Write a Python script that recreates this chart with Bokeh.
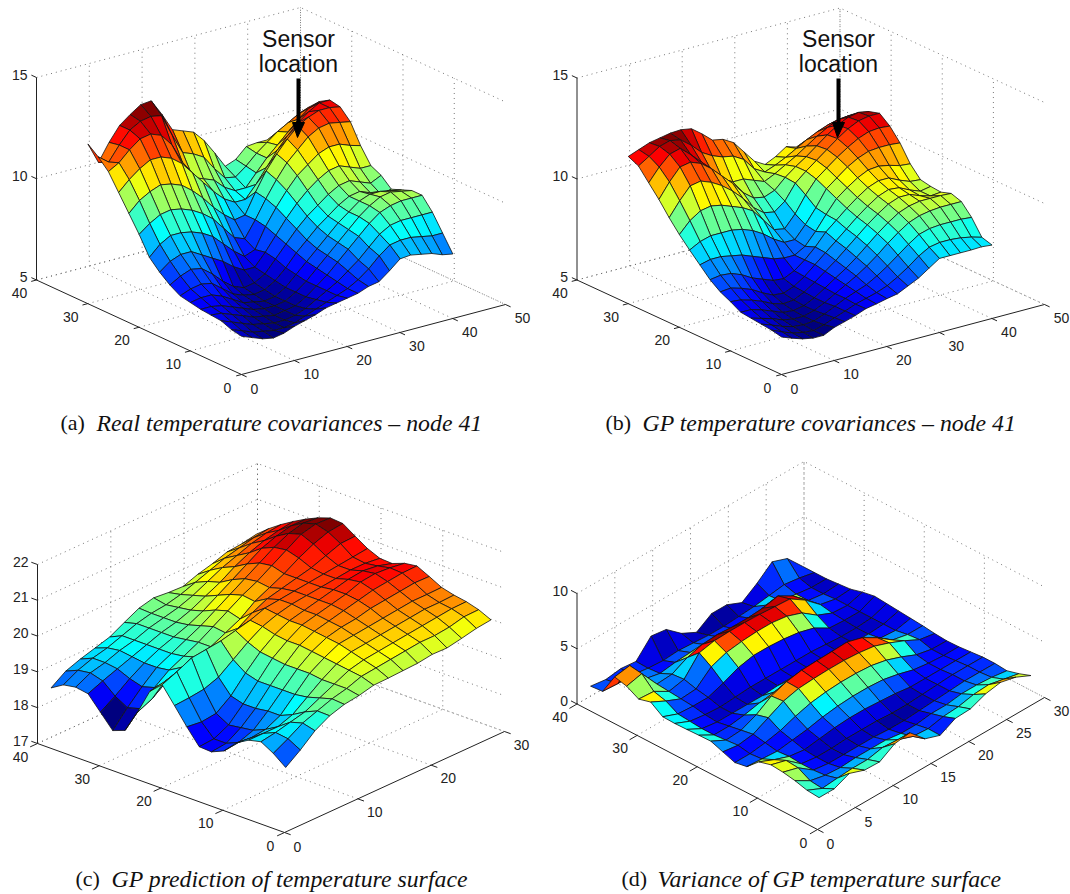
import numpy as np
from bokeh.plotting import figure
from bokeh.models import Range1d, ColumnDataSource
from bokeh.core.properties import value
from bokeh.embed import file_html
from bokeh.resources import INLINE

# surface heights, rows = y (front to back), columns = x (left to right)
a_x = list(range(1, 42, 2))
a_y = list(range(1, 32, 2))
z_a = [
[6.7,6.5,6.3,6.2,6.3,6.5,6.65,6.8,7.0,7.1,7.2,7.3,7.5,7.6,8.0,8.45,8.5,8.4,8.3,8.1,8.0],
[6.8,6.6,6.4,6.3,6.2,6.2,6.3,6.5,6.7,6.9,7.1,7.3,7.6,8.0,8.5,8.9,9.0,9.0,8.9,8.8,8.8],
[7.0,6.8,6.6,6.4,6.3,6.2,6.2,6.3,6.5,6.8,7.1,7.4,7.8,8.2,8.7,9.2,9.5,9.6,9.6,9.6,9.6],
[7.05,7.0,6.8,6.6,6.4,6.3,6.2,6.3,6.4,6.7,7.1,7.5,8.0,8.5,9.0,9.5,9.9,10.1,10.2,10.2,10.2],
[7.1,7.1,7.0,6.8,6.6,6.4,6.3,6.3,6.4,6.7,7.1,7.6,8.1,8.6,9.1,9.6,10,10.3,10.4,10.3,10.2],
[7.2,7.3,7.3,7.1,6.8,6.5,6.4,6.3,6.4,6.7,7.2,7.7,8.2,8.7,9.2,9.6,10,10.2,10.2,10.1,10],
[7.3,7.5,7.6,7.5,7.1,6.7,6.5,6.4,6.5,6.8,7.3,7.9,8.4,8.9,9.3,9.7,10,10.1,9.9,9.7,9.8],
[7.6,7.9,8.1,8.0,7.6,7.1,6.7,6.5,6.6,6.9,7.5,8.1,8.7,9.2,9.6,10,10.3,10.4,10.2,10,10.25],
[8,8.4,8.6,8.6,8.3,8,7.7,7.3,7,7,7.6,8.3,9,9.6,10.1,10.5,10.8,10.9,10.7,10.5,10.5],
[8.5,9,9.3,9.3,9.2,9,8.7,8.2,7.7,7.3,7.5,8.5,9.3,10,10.6,11,11.4,11.6,11.6,11.4,11.25],
[9.4,9.8,10.1,10.2,10.1,9.9,9.6,9.2,8.6,8,7.8,8.6,9.5,10.3,11,11.5,12,12.3,12.4,12.3,12.2],
[10.2,10.7,11,11.2,11.1,10.9,10.5,10,9.4,8.9,8.5,8.6,9.6,10.5,11.2,11.8,12.3,12.6,12.8,12.8,12.7],
[11,11.5,11.9,12.2,12.2,12,11.6,11,10.4,9.8,9.3,9,9,9.6,10.3,11,11.6,12.1,12.5,12.8,12.8],
[11.8,12.1,12.6,13,13.1,12.9,12.3,11.3,10.4,10.2,10,9.5,9.2,9.2,9.8,10.4,10.9,11.4,11.9,12.3,12.5],
[12.3,11.9,12.6,13.2,13.5,13.6,13.5,12.4,11.4,11.2,10.9,10.2,9.6,9.5,9.9,10.4,10.8,11.2,11.5,11.8,12],
[12.7,11.65,12.5,13.2,13.6,13.95,14,13.2,12.3,12.1,11.9,11.35,10.6,9.8,10,10.5,10.55,10.55,10.55,10.7,11.1],
]
z_b = [
[6.67,6.47,6.3,6.2,6.2,6.45,6.6,6.76,6.96,7.06,7.18,7.28,7.53,7.78,8.13,8.48,8.48,8.48,8.48,8.5,8.45],
[6.78,6.55,6.35,6.25,6.2,6.35,6.55,6.75,6.95,7.1,7.25,7.45,7.75,8.1,8.5,8.8,8.9,8.9,8.85,8.75,8.6],
[6.84,6.65,6.45,6.3,6.25,6.3,6.5,6.75,7.0,7.2,7.4,7.7,8.05,8.45,8.85,9.2,9.35,9.4,9.4,9.4,9.35],
[6.9,6.75,6.6,6.4,6.3,6.3,6.45,6.7,7.0,7.3,7.6,7.95,8.35,8.8,9.2,9.55,9.75,9.85,9.9,9.9,9.9],
[6.96,6.95,6.8,6.6,6.4,6.35,6.45,6.7,7.05,7.4,7.75,8.15,8.6,9.05,9.45,9.8,10,10.1,10.1,10.1,10.07],
[7.25,7.2,7.05,6.85,6.6,6.45,6.5,6.75,7.1,7.5,7.9,8.35,8.8,9.25,9.65,10,10.2,10.2,10,9.85,9.9],
[7.5,7.55,7.4,7.2,6.9,6.65,6.6,6.8,7.15,7.6,8.05,8.5,8.95,9.4,9.8,10.15,10.35,10.3,10.05,9.85,9.95],
[7.87,7.95,7.9,7.7,7.4,7.2,7,6.95,7.2,7.6,8.1,8.7,9.15,9.6,10,10.35,10.55,10.55,10.3,10.1,10.05],
[8.37,8.5,8.5,8.4,8.3,8.1,7.9,7.7,7.6,7.6,7.9,8.5,9.2,9.85,10.25,10.6,10.85,10.9,10.8,10.65,10.6],
[8.87,9.15,9.3,9.3,9.3,9.2,9,8.7,8.3,8,8,8.6,9.3,10.1,10.5,10.9,11.2,11.4,11.45,11.45,11.4],
[9.4,9.95,10.3,10.4,10.3,10.1,9.9,9.6,9,8.4,8.3,8.9,9.7,10.35,10.75,11.15,11.5,11.8,12,12.05,12],
[10,10.7,11.3,11.4,11.2,10.9,10.5,10,9.4,9,8.9,9.3,10.05,10.5,10.9,11.3,11.7,12.05,12.3,12.4,12.4],
[10.67,11.4,12,12.1,11.9,11.5,11,10.5,9.9,9.5,9.4,9.6,10.1,10.5,10.85,11.25,11.65,12,12.25,12.35,12.25],
[11.26,11.9,12.4,12.55,12.1,11.6,11,10.5,10.2,10.2,10,9.8,10.05,10.35,10.65,11,11.35,11.65,11.9,11.95,11.9],
[11.86,12.2,12.55,12.7,12.6,12.2,11.7,11.4,11.2,11.1,10.8,10.2,9.9,10.1,10.35,10.65,10.95,11.2,11.4,11.5,11.5],
[12.1,12.3,12.5,12.6,12.7,12.73,12.64,12.25,11.8,11.7,11.4,10.8,10.2,9.9,10.15,10.5,10.35,10.2,10.15,11,11.1],
]
c_x = list(range(1, 30, 2))
c_y = list(range(1, 40, 2))
z_c = [
[18.66,18.96,19.31,19.54,19.67,19.73,19.83,19.84,19.86,19.88,19.94,19.93,20.01,20.1,20.15],
[18.93,19.15,19.4,19.55,19.7,19.8,19.95,20,20.05,20.1,20.15,20.15,20.2,20.3,20.31],
[19.13,19.2,19.3,19.4,19.6,19.8,20,20.1,20.15,20.2,20.25,20.3,20.35,20.4,20.41],
[19.05,19.05,19.05,19.2,19.5,19.8,20.05,20.2,20.25,20.3,20.35,20.4,20.45,20.45,20.47],
[18.85,18.8,18.85,19.05,19.45,19.85,20.1,20.3,20.35,20.4,20.45,20.5,20.55,20.55,20.56],
[18.5,18.55,18.7,19.05,19.45,19.85,20.15,20.35,20.45,20.5,20.6,20.65,20.7,20.75,20.74],
[18.35,18.4,18.65,19,19.45,19.85,20.2,20.4,20.5,20.6,20.7,20.8,20.85,20.9,20.91],
[18.37,18.4,18.6,19,19.45,19.9,20.2,20.45,20.55,20.65,20.75,20.9,20.95,20.92,20.86],
[18.8,18.75,18.8,19.1,19.55,19.95,20.25,20.45,20.55,20.65,20.75,20.85,20.9,20.85,20.73],
[19.27,19.3,19.35,19.5,19.8,20.1,20.35,20.5,20.6,20.65,20.7,20.75,20.8,20.8,20.75],
[19.73,19.9,20.1,20.15,20.2,20.3,20.4,20.55,20.6,20.65,20.7,20.75,20.8,20.85,20.9],
[19.42,19.5,19.6,19.6,19.65,19.85,20.05,20.3,20.5,20.6,20.7,20.8,20.95,21.1,21.12],
[18.71,18.9,19.2,19.4,19.5,19.6,19.8,20,20.3,20.5,20.7,20.95,21.15,21.3,21.35],
[18.08,18.5,18.9,19.2,19.4,19.6,19.85,20.1,20.35,20.55,20.8,21.05,21.3,21.4,21.38],
[17.95,18.4,18.8,19.15,19.35,19.55,19.75,20,20.25,20.5,20.75,21,21.2,21.3,21.26],
[18.34,18.6,18.9,19.15,19.35,19.5,19.65,19.85,20.1,20.35,20.6,20.85,21,21.1,21.1],
[18.73,18.9,19.05,19.2,19.35,19.5,19.6,19.75,19.95,20.15,20.4,20.6,20.75,20.85,20.91],
[18.79,19,19.1,19.25,19.35,19.5,19.6,19.7,19.85,20.05,20.25,20.4,20.55,20.65,20.7],
[18.73,18.95,19.1,19.2,19.35,19.5,19.6,19.65,19.75,19.9,20.05,20.2,20.3,20.4,20.46],
[18.52,18.8,18.95,19.07,19.19,19.41,19.62,19.72,19.68,19.66,19.81,19.92,20.06,20.1,20.18],
]
z_d = [
[2.2,2.2,2.8,2.3,2.25,3.1,3.3,1.95,1.47,2.2,2.27,2.83,3.08,2.75,2.1],
[2.3,1.67,1.8,1.9,1.9,2.2,2.1,1.6,1.5,1.8,1.9,2.2,2.3,2.0,1.7],
[2.6,1.8,1.5,1.4,1.5,1.5,1.5,1.3,1.3,1.5,1.5,1.7,1.7,1.6,1.4],
[2.8,2.4,1.4,1.2,1.2,1.2,1.2,1.1,1.1,1.2,1.3,1.4,1.5,1.5,1.5],
[2.9,2.5,1.4,1.2,1.2,1.3,1.3,1.3,1.2,1.2,1.3,1.4,1.5,1.5,1.5],
[2.6,2.0,1.5,1.3,1.5,1.7,1.8,1.8,1.7,1.6,1.4,1.4,1.4,1.4,1.4],
[1.6,1.5,1.4,1.6,1.8,2.1,2.3,2.4,2.4,2.3,2.0,1.6,1.4,1.3,1.3],
[1.4,1.4,1.6,1.9,2.4,2.8,3.0,3.1,3.1,3.0,2.7,2.2,1.6,1.3,1.27],
[1.8,1.6,1.8,2.5,3.2,3.55,3.65,3.7,3.7,3.6,3.4,2.9,2.3,1.6,1.36],
[2.2,1.5,1.6,2.2,3.1,3.6,3.85,3.9,3.95,4,3.6,2.8,1.8,1.5,1.5],
[2.17,1.4,1.4,1.6,1.9,2.1,2.4,2.6,2.6,2.5,2.3,1.8,1.4,1.3,1.6],
[2.13,1.4,1.2,1.2,1.2,1.2,1.3,1.3,1.3,1.3,1.2,1.2,1.2,1.3,1.7],
[2.1,1.5,1.3,1.2,1.3,1.4,1.4,1.4,1.4,1.4,1.3,1.2,1.2,1.3,1.8],
[2.14,1.6,1.5,1.5,2.0,2.6,2.9,2.9,2.8,2.6,2.2,1.4,1.3,1.3,1.9],
[2.9,2.2,1.6,1.7,2.9,3.4,3.6,3.7,3.7,3.5,3.0,2.0,1.4,1.3,1.7],
[2.6,2.5,1.7,2.0,3.6,3.9,3.95,3.95,3.9,3.8,3.7,2.8,1.6,1.3,1.4],
[3.2,3.54,1.8,1.9,2.6,3.0,3.1,3.0,3.0,3.1,3.4,2.6,1.4,1.2,1.3],
[3.47,3.7,1.7,1.4,1.6,1.7,1.6,1.5,1.4,1.6,2.0,1.6,1.4,1.2,1.2],
[1.6,1.5,1.5,1.3,1.2,1.3,1.2,1.1,1.1,1.2,1.3,1.5,1.7,1.5,1.2],
[1.5,1.3,1.5,1.35,2.85,2.65,1.5,0.8,1.7,1.7,1.1,2.05,3.2,2.7,1.2],
]
x_ticks_a = [0, 10, 20, 30, 40, 50]
y_ticks_a = [0, 10, 20, 30, 40]
z_ticks_a = [5, 10, 15]
x_ticks_c = [0, 10, 20, 30]
y_ticks_c = [0, 10, 20, 30, 40]
z_ticks_c = [17, 18, 19, 20, 21, 22]
x_ticks_d = [0, 5, 10, 15, 20, 25, 30]
y_ticks_d = [0, 10, 20, 30, 40]
z_ticks_d = [0, 5, 10]
captions = ["(a)", "(b)", "(c)", "(d)"]
titles = ["Real temperature covariances \u2013 node 41", "GP temperature covariances \u2013 node 41",
          "GP prediction of temperature surface", "Variance of GP temperature surface"]
annotation = ["Sensor", "location"]

FONT = "Liberation Sans"
SERIF = "Liberation Serif"

def jet(f):
    f = min(max(f, 0.0), 1.0)
    r = min(max(min(4*f-1.5, -4*f+4.5), 0), 1)
    g = min(max(min(4*f-0.5, -4*f+3.5), 0), 1)
    b = min(max(min(4*f+0.5, -4*f+2.5), 0), 1)
    return "#%02x%02x%02x" % (int(r*255), int(g*255), int(b*255))

p = figure(width=1070, height=894, output_backend="svg", toolbar_location=None,
           x_range=Range1d(0, 1070), y_range=Range1d(894, 0), min_border=0,
           outline_line_color=None, background_fill_color="white", border_fill_color="white")
p.axis.visible = False
p.grid.visible = False

def panel(front, right, left, z_top_y, xt, yt, zt, xs, ys, z, clim):
    fx, fy = front
    xmax, ymax = xt[-1], yt[-1]
    zmin, zmax = zt[0], zt[-1]
    ux = ((right[0]-fx)/xmax, (right[1]-fy)/xmax)
    uy = ((left[0]-fx)/ymax, (left[1]-fy)/ymax)
    k = (left[1]-z_top_y)/(zmax-zmin)
    def P(x, y, zz):
        return fx+ux[0]*x+uy[0]*y, fy+ux[1]*x+uy[1]*y-k*(zz-zmin)
    def dotted(pts, color="#666666"):
        q = [P(*t) for t in pts]
        p.line([a[0] for a in q], [a[1] for a in q], line_color=color, line_width=0.9, line_dash="1 4")
    def solid(pts, w=1.0):
        q = [P(*t) for t in pts]
        p.line([a[0] for a in q], [a[1] for a in q], line_color="#222222", line_width=w)
    for t in xt[1:]:
        dotted([(t, 0, zmin), (t, ymax, zmin), (t, ymax, zmax)])
    for t in yt[1:]:
        dotted([(0, t, zmin), (xmax, t, zmin), (xmax, t, zmax)])
    for t in zt:
        dotted([(0, ymax, t), (xmax, ymax, t), (xmax, 0, t)])
    solid([(0, ymax, zmin), (0, 0, zmin), (xmax, 0, zmin)])
    solid([(0, ymax, zmin), (0, ymax, zmax)])
    tx, ty, tl, ax, ay = [], [], [], [], []
    for t in xt:
        solid([(t, 0, zmin), (t, -1, zmin)])
        a = P(t, 0, zmin)
        one = len(str(t)) == 1
        tx.append(a[0]+(13 if one else 17)); ty.append(a[1]+(14 if one else 13)); tl.append(str(t))
    for t in yt:
        solid([(0, t, zmin), (-1, t, zmin)])
        a = P(0, t, zmin)
        one = len(str(t)) == 1
        tx.append(a[0]-(14 if one else 17)); ty.append(a[1]+(13 if one else 13)); tl.append(str(t))
    for t in zt:
        solid([(0, ymax, t), (0, ymax+1, t)])
        a = P(0, ymax, t)
        ax.append(a[0]-9); ay.append(a[1]-3); tl.append(str(t))
    p.text(tx, ty, text=tl[:len(tx)], text_font=value(FONT), text_font_size="14px",
           text_align="center", text_baseline="middle", text_color="#222222")
    p.text(ax, ay, text=tl[len(tx):], text_font=value(FONT), text_font_size="14px",
           text_align="right", text_baseline="middle", text_color="#222222")
    px, py, col = [], [], []
    for j in range(len(ys)-2, -1, -1):
        for i in range(len(xs)-2, -1, -1):
            corners = [(i, j), (i+1, j), (i+1, j+1), (i, j+1)]
            q = [P(xs[c], ys[d], z[d][c]) for c, d in corners]
            px.append([a[0] for a in q]); py.append([a[1] for a in q])
            col.append(jet((z[j][i]-clim[0])/(clim[1]-clim[0])))
    p.patches("x", "y", source=ColumnDataSource(dict(x=px, y=py, c=col)), fill_color="c",
              line_color="#111111", line_width=0.8)

panel((241, 374), (505, 304), (36, 279.5), 77, x_ticks_a, y_ticks_a, z_ticks_a, a_x, a_y, z_a, (6.2, 13.6))
panel((781, 374), (1044, 304), (576.5, 279.5), 77.5, x_ticks_a, y_ticks_a, z_ticks_a, a_x, a_y, z_b, (6.2, 12.7))
panel((284, 832), (504, 731), (37, 743), 564, x_ticks_c, y_ticks_c, z_ticks_c, c_x, c_y, z_c, (17.95, 21.3))
panel((817, 829), (1044, 697), (576.5, 703.5), 593, x_ticks_d, y_ticks_d, z_ticks_d, c_x, c_y, z_d, (1.0, 4.0))

for cx in (298, 838):
    p.text([cx, cx], [38, 63], text=annotation, text_font=value(FONT), text_font_size="23px",
           text_align="center", text_baseline="middle", text_color="#111111")
    p.segment([cx], [78], [cx], [125], line_color="black", line_width=4)
    p.patch([cx-6, cx+6, cx-1], [122, 122, 137], fill_color="black", line_color="black")

cap_x = [(60, 96), (605, 642), (75, 111), (621, 657)]
cap_y = [422, 422, 878, 878]
for i in range(4):
    p.text([cap_x[i][0]], [cap_y[i]], text=[captions[i]], text_font=value(SERIF), text_font_size="22px",
           text_align="left", text_baseline="middle", text_color="#111111")
    p.text([cap_x[i][1]], [cap_y[i]], text=[titles[i]], text_font=value(SERIF), text_font_size="23.8px",
           text_font_style="italic", text_align="left", text_baseline="middle", text_color="#111111")

open("out.html", "w").write(file_html(p, INLINE))
